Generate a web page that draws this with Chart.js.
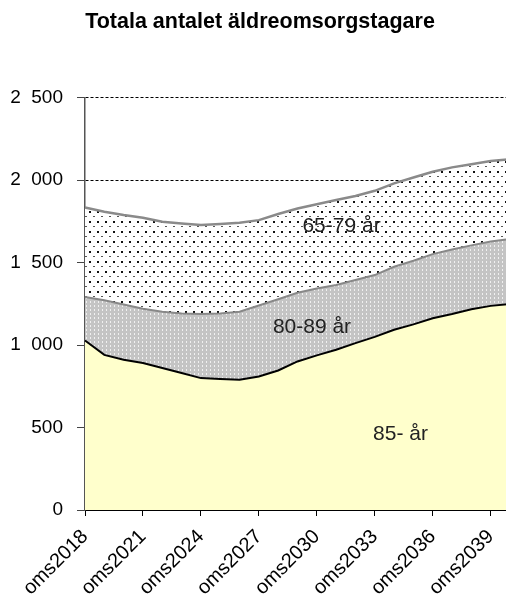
<!DOCTYPE html>
<html>
<head>
<meta charset="utf-8">
<script src="https://cdn.jsdelivr.net/npm/chart.js@4/dist/chart.umd.min.js"></script>
<style>
  html, body { margin: 0; padding: 0; background: #fff; overflow: hidden; }
  #wrap { width: 506px; height: 598px; overflow: hidden; position: relative; }
  canvas { display: block; }
</style>
</head>
<body>
<div id="wrap"><canvas id="c" width="520" height="598"></canvas></div>
<script>
const chartTitle = 'Totala antalet äldreomsorgstagare';
const categories = ['oms2018','oms2019','oms2020','oms2021','oms2022','oms2023','oms2024','oms2025',
  'oms2026','oms2027','oms2028','oms2029','oms2030','oms2031','oms2032','oms2033','oms2034','oms2035',
  'oms2036','oms2037','oms2038','oms2039','oms2040'];
const seriesNames = ['85- år', '80-89 år', '65-79 år'];
const values85 = [1028, 941, 911, 891, 861, 831, 800, 794, 790, 810, 846, 901, 938, 972, 1012, 1050,
  1093, 1126, 1163, 1189, 1218, 1238, 1250];
const values8089 = [264, 331, 335, 329, 342, 361, 388, 398, 412, 430, 432, 417, 405, 393, 383, 375,
  382, 386, 389, 391, 387, 390, 393];
const values6579 = [543, 537, 543, 552, 545, 546, 540, 542, 540, 518, 517, 511, 511, 515, 509, 511,
  506, 505, 499, 498, 492, 488, 485];
const yTickValues = [0, 500, 1000, 1500, 2000, 2500];
const yTickLabels = ['0', '500', '1\u2007000', '1\u2007500', '2\u2007000', '2\u2007500'];
// label anchor positions in data space: [category index, value]
const labelAnchors = [[16.33, 457], [11.75, 1111], [13.28, 1722]];

function makePattern(w, h, draw) {
  const c = document.createElement('canvas');
  c.width = w; c.height = h;
  const g = c.getContext('2d');
  draw(g);
  return g.createPattern(c, 'repeat');
}
const dotPattern = makePattern(8, 10, g => {
  g.fillStyle = '#ffffff'; g.fillRect(0, 0, 8, 10);
  g.fillStyle = '#111111'; g.fillRect(1, 1, 2, 2);
  g.fillStyle = '#555555'; g.fillRect(5, 6, 2, 1);
});
const meshPattern = makePattern(4, 4, g => {
  g.fillStyle = '#c4c4c4'; g.fillRect(0, 0, 4, 4);
  g.fillStyle = '#f0f0f0'; g.fillRect(2, 1, 1, 2);
});

const FONT = "'Liberation Sans', Arial, sans-serif";

const areaLabels = {
  id: 'areaLabels',
  afterDatasetsDraw(chart) {
    const ctx = chart.ctx;
    const xs = chart.scales.x, ys = chart.scales.y;
    ctx.save();
    ctx.font = '21px ' + FONT;
    ctx.fillStyle = '#222222';
    ctx.textAlign = 'center';
    ctx.textBaseline = 'middle';
    seriesNames.forEach((name, i) => {
      const a = labelAnchors[i];
      ctx.fillText(name, xs.getPixelForValue(a[0]), ys.getPixelForValue(a[1]));
    });
    ctx.restore();
  }
};

new Chart(document.getElementById('c'), {
  type: 'line',
  data: {
    labels: categories,
    datasets: [
      { label: seriesNames[0], data: values85, fill: 'origin', backgroundColor: '#ffffcc',
        borderColor: '#000000', borderWidth: 2, pointRadius: 0, tension: 0 },
      { label: seriesNames[1], data: values8089, fill: '-1', backgroundColor: meshPattern,
        borderColor: '#888888', borderWidth: 2, pointRadius: 0, tension: 0 },
      { label: seriesNames[2], data: values6579, fill: '-1', backgroundColor: dotPattern,
        borderColor: '#8a8a8a', borderWidth: 2.5, pointRadius: 0, tension: 0 }
    ]
  },
  options: {
    responsive: false,
    animation: false,
    layout: { padding: 0 },
    plugins: {
      legend: { display: false },
      tooltip: { enabled: false },
      title: {
        display: true, text: chartTitle, color: '#000',
        font: { family: FONT, size: 21.5, weight: 'bold', lineHeight: 1.2 },
        padding: { top: 9, bottom: 63 }
      }
    },
    scales: {
      x: {
        offset: false,
        grid: {
          drawOnChartArea: false, drawTicks: true, tickLength: 6,
          tickColor: ctx => (ctx.index % 3 === 0 ? '#000' : 'rgba(0,0,0,0)'), tickWidth: 1
        },
        border: { color: '#000', width: 2 },
        ticks: {
          autoSkip: false, maxRotation: 45, minRotation: 45, padding: 9,
          color: '#000', font: { family: FONT, size: 20 },
          callback: (v, i) => (i % 3 === 0 ? categories[i] : '')
        },
        afterFit: s => { s.height = 88; s.paddingLeft = 0; s.paddingRight = 10; }
      },
      y: {
        stacked: true, min: 0, max: 2500,
        afterBuildTicks: s => { s.ticks = yTickValues.map(v => ({ value: v })); },
        grid: {
          color: '#000', lineWidth: 1,
          tickLength: 8, tickColor: '#444', tickBorderDash: [], tickWidth: 1
        },
        border: { color: '#555', width: 1.5, dash: [3, 2] },
        ticks: {
          padding: 14, color: '#000', font: { family: FONT, size: 19 },
          callback: (v, i) => yTickLabels[yTickValues.indexOf(v)]
        },
        afterFit: s => { s.width = 85; }
      }
    }
  },
  plugins: [areaLabels]
});
</script>
</body>
</html>
